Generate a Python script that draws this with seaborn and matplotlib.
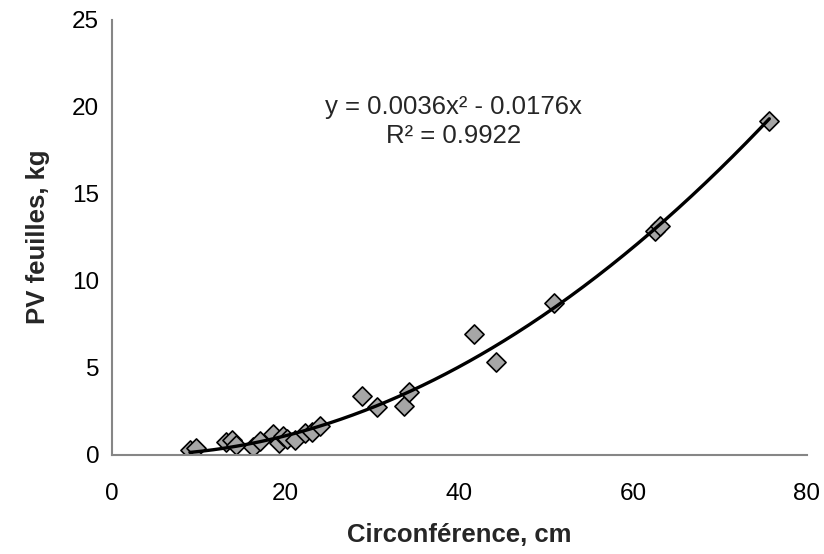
import numpy as np
import pandas as pd
import seaborn as sns
import matplotlib
matplotlib.use("Agg")
import matplotlib.pyplot as plt

# Tree girth (cm) and fresh leaf weight (kg)
circonference = [9.0, 9.7, 13.2, 13.8, 14.3, 16.3, 17.1, 18.6, 19.3, 19.7,
                 20.2, 21.1, 22.2, 23.0, 24.0, 28.8, 30.5, 33.6, 34.2, 41.7,
                 44.2, 50.9, 62.5, 63.1, 75.7]
pv_feuilles = [0.25, 0.37, 0.72, 0.82, 0.58, 0.42, 0.78, 1.2, 0.7, 1.08,
               0.9, 0.85, 1.22, 1.32, 1.65, 3.37, 2.72, 2.8, 3.62, 6.92,
               5.34, 8.7, 12.85, 13.15, 19.15]

# Quadratic trendline through the origin
coef_a = 0.0036
coef_b = -0.0176
r2 = 0.9922

x_ticks = [0, 20, 40, 60, 80]
y_ticks = [0, 5, 10, 15, 20, 25]

df = pd.DataFrame({"x": circonference, "y": pv_feuilles})

sns.set_style("white")
plt.rcParams["font.family"] = ["Liberation Sans", "DejaVu Sans"]

fig = plt.figure(figsize=(8.24, 5.54), dpi=100)
ax = fig.add_axes([0.1356, 0.1792, 0.8434, 0.7856])

xs = np.linspace(min(circonference), max(circonference), 300)
ax.plot(xs, coef_a * xs**2 + coef_b * xs, color="black", lw=2.4, zorder=3)

sns.scatterplot(data=df, x="x", y="y", ax=ax, marker="D", s=95,
                color="#A6A6A6", edgecolor="black", linewidth=1.2, zorder=2)

ax.set_xlim(0, 80)
ax.set_ylim(0, 25)
ax.set_xticks(x_ticks)
ax.set_yticks(y_ticks)

spine_color = "#868686"
for side in ["top", "right"]:
    ax.spines[side].set_visible(False)
for side in ["left", "bottom"]:
    ax.spines[side].set_color(spine_color)
    ax.spines[side].set_linewidth(1.5)
ax.tick_params(axis="both", direction="out", length=5, width=1.5,
               color=spine_color, labelsize=17.5, labelcolor="black")
ax.tick_params(axis="x", pad=15)
ax.tick_params(axis="y", pad=4)

ax.set_xlabel("Circonférence, cm", fontsize=18.5, fontweight="bold", labelpad=13)
ax.set_ylabel("PV feuilles, kg", fontsize=18.5, fontweight="bold", labelpad=16)

eq = f"y = {coef_a:.4f}x² - {abs(coef_b):.4f}x"
ax.text(39.3, 20.0, eq, ha="center", va="center", fontsize=18.5)
ax.text(39.3, 18.3, f"R² = {r2:.4f}", ha="center", va="center", fontsize=18.5)

fig.savefig("out.png", dpi=100)
